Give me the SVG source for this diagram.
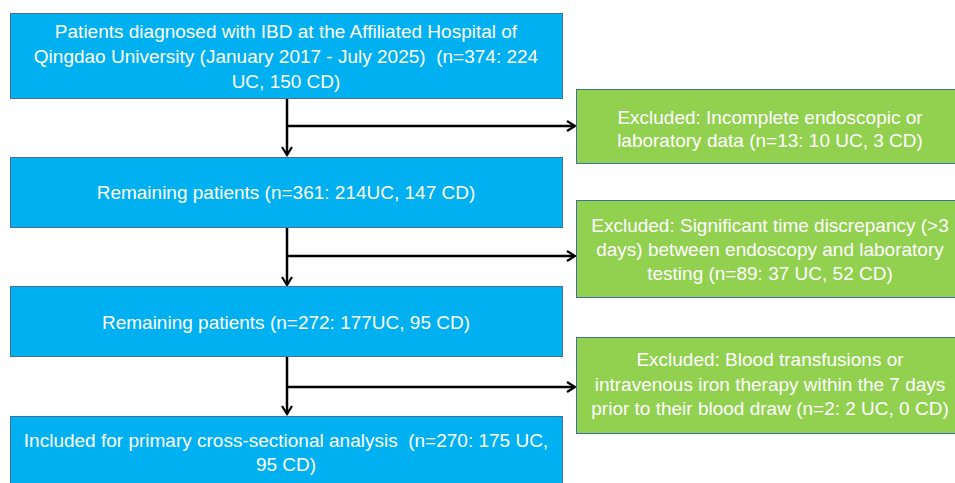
<svg xmlns="http://www.w3.org/2000/svg" width="955" height="483" viewBox="0 0 955 483">
<defs>
<style>
.blue{fill:#00B0F0;stroke:#41719C;stroke-width:1}
.green{fill:#92D050;stroke:#41719C;stroke-width:1}
.t{font-family:"Liberation Sans",Arial,sans-serif;font-size:19px;fill:#ffffff;text-anchor:middle;white-space:pre}
.c{fill:none;stroke:#000;stroke-width:2.5}
</style>
<marker id="ah" viewBox="0 0 12 12" refX="10" refY="6" markerWidth="12" markerHeight="12" markerUnits="userSpaceOnUse" orient="auto">
<path d="M2,1 L10,6 L2,11" fill="none" stroke="#000" stroke-width="2.2"/>
</marker>
</defs>
<rect width="955" height="483" fill="#ffffff"/>
<g id="connectors">
<path class="c" d="M287,99 V155" marker-end="url(#ah)"/>
<path class="c" d="M287,126 H575" marker-end="url(#ah)"/>
<path class="c" d="M287,228 V285" marker-end="url(#ah)"/>
<path class="c" d="M287,256 H575" marker-end="url(#ah)"/>
<path class="c" d="M287,357 V414" marker-end="url(#ah)"/>
<path class="c" d="M287,387 H575" marker-end="url(#ah)"/>
</g>
<g id="node1">
<rect class="blue" x="10.5" y="13.5" width="552" height="85"/>
<text class="t" x="286" y="38">Patients diagnosed with IBD at the Affiliated Hospital of</text>
<text class="t" x="286" y="63" xml:space="preserve">Qingdao University (January 2017 - July 2025)  (n=374: 224</text>
<text class="t" x="286" y="88">UC, 150 CD)</text>
</g>
<g id="excl1">
<rect class="green" x="576.5" y="89.5" width="390" height="74"/>
<text class="t" x="770" y="124">Excluded: Incomplete endoscopic or</text>
<text class="t" x="770" y="147">laboratory data (n=13: 10 UC, 3 CD)</text>
</g>
<g id="node2">
<rect class="blue" x="10.5" y="157.5" width="552" height="70"/>
<text class="t" x="286" y="199">Remaining patients (n=361: 214UC, 147 CD)</text>
</g>
<g id="excl2">
<rect class="green" x="576.5" y="200.5" width="390" height="97"/>
<text class="t" x="770" y="232">Excluded: Significant time discrepancy (&gt;3</text>
<text class="t" x="770" y="256">days) between endoscopy and laboratory</text>
<text class="t" x="770" y="280">testing (n=89: 37 UC, 52 CD)</text>
</g>
<g id="node3">
<rect class="blue" x="10.5" y="286.5" width="552" height="70"/>
<text class="t" x="286" y="329">Remaining patients (n=272: 177UC, 95 CD)</text>
</g>
<g id="excl3">
<rect class="green" x="576.5" y="337.5" width="390" height="96"/>
<text class="t" x="770" y="366">Excluded: Blood transfusions or</text>
<text class="t" x="770" y="391">intravenous iron therapy within the 7 days</text>
<text class="t" x="770" y="415">prior to their blood draw (n=2: 2 UC, 0 CD)</text>
</g>
<g id="node4">
<rect class="blue" x="10.5" y="416.5" width="552" height="80"/>
<text class="t" x="286" y="447" xml:space="preserve">Included for primary cross-sectional analysis  (n=270: 175 UC,</text>
<text class="t" x="286" y="471">95 CD)</text>
</g>
</svg>
